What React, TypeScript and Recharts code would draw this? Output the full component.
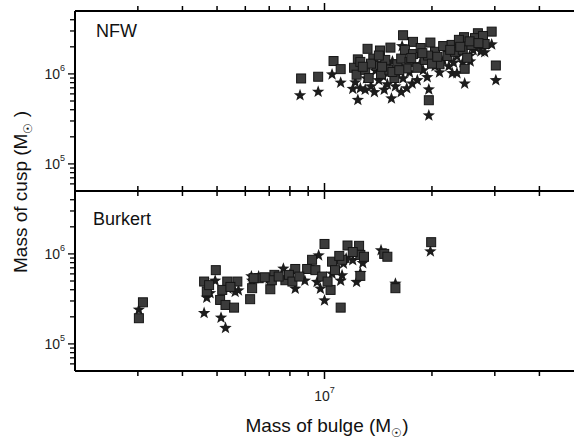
import { ScatterChart, Scatter, XAxis, YAxis } from "recharts";

// mass of bulge (x) vs mass of cusp (y), in solar masses
const nfwSquares: [number, number][] = [
  [8.6e6, 8.9e5], [9.6e6, 9.3e5], [1.06e7, 1.39e6], [1.11e7, 1.13e6], [1.24e7, 1.45e6],
  [1.32e7, 1.9e6], [1.43e7, 1.82e6], [1.53e7, 1.96e6], [1.66e7, 2.69e6], [1.77e7, 2.27e6],
  [1.98e7, 2.23e6], [1.96e7, 5.1e5], [2.46e7, 2.56e6], [2.69e7, 2.83e6], [2.94e7, 2.95e6],
  [3.02e7, 1.24e6], [2.47e7, 1.14e6],
  [1.21e7, 1.17e6], [1.23e7, 9.8e5], [1.26e7, 1.36e6], [1.3e7, 1.11e6], [1.33e7, 9.0e5],
  [1.37e7, 1.48e6], [1.4e7, 1.23e6], [1.44e7, 1.0e6], [1.48e7, 1.43e6], [1.52e7, 1.11e6],
  [1.57e7, 9.0e5], [1.6e7, 1.28e6], [1.64e7, 1.48e6], [1.68e7, 1.85e6], [1.73e7, 1.36e6],
  [1.77e7, 1.66e6], [1.82e7, 1.17e6], [1.86e7, 1.94e6], [1.91e7, 1.43e6], [2.04e7, 1.76e6],
  [2.1e7, 1.28e6], [2.15e7, 2.04e6], [2.21e7, 1.58e6], [2.27e7, 2.1e6], [2.32e7, 1.76e6],
  [2.38e7, 2.39e6], [2.44e7, 1.85e6], [2.51e7, 1.51e6], [2.58e7, 2.1e6], [2.64e7, 2.5e6],
  [2.78e7, 2.64e6], [2.81e7, 2.15e6], [1.55e7, 1.05e6], [1.7e7, 1.15e6], [1.95e7, 1.6e6],
  [2.0e7, 1.3e6], [1.35e7, 1.3e6], [1.45e7, 1.2e6], [1.62e7, 1.1e6], [1.75e7, 1.5e6],
  [1.88e7, 1.7e6], [2.07e7, 1.55e6], [2.25e7, 1.85e6], [2.4e7, 2.0e6], [2.55e7, 2.3e6],
  [2.7e7, 2.2e6], [1.28e7, 1.2e6], [1.42e7, 1.6e6],
];

const nfwStars: [number, number][] = [
  [8.54e6, 5.85e5], [9.6e6, 6.4e5], [1.05e7, 1.0e6], [1.11e7, 8.1e5], [1.24e7, 5.2e5],
  [1.54e7, 5.4e5], [1.65e7, 2.06e6], [1.96e7, 3.5e5], [1.96e7, 6.8e5], [1.94e7, 9.3e5],
  [2.47e7, 7.9e5], [2.94e7, 2.15e6], [3.02e7, 8.6e5], [2.74e7, 1.8e6], [2.28e7, 1.03e6],
  [2.35e7, 1.03e6], [2.56e7, 1.39e6], [1.2e7, 6.9e5], [1.3e7, 6.75e5], [1.38e7, 6.35e5],
  [1.47e7, 6.75e5], [1.64e7, 6.35e5], [1.76e7, 7.9e5], [1.55e7, 1.39e6],
  [1.22e7, 8.15e5], [1.26e7, 7.0e5], [1.31e7, 9.0e5], [1.35e7, 7.35e5], [1.42e7, 8.6e5],
  [1.5e7, 7.75e5], [1.58e7, 7.35e5], [1.66e7, 9.0e5], [1.73e7, 1.05e6], [1.82e7, 8.6e5],
  [1.89e7, 1.11e6], [2.04e7, 1.23e6], [2.15e7, 1.43e6], [2.23e7, 1.23e6], [2.35e7, 1.58e6],
  [2.44e7, 1.36e6], [2.61e7, 1.85e6], [2.71e7, 2.04e6], [2.81e7, 1.76e6], [1.39e7, 1.1e6],
  [1.46e7, 9.5e5], [1.6e7, 1.0e6], [1.85e7, 1.3e6], [2.1e7, 1.05e6], [2.3e7, 1.35e6],
  [2.55e7, 1.6e6], [1.7e7, 7.0e5],
];

const burkertSquares: [number, number][] = [
  [3.02e6, 1.93e5], [3.1e6, 2.9e5], [4.96e6, 6.6e5], [4.6e6, 4.93e5], [5.34e6, 4.93e5],
  [5.7e6, 4.93e5], [5.1e6, 3.08e5], [5.28e6, 2.71e5], [5.58e6, 2.53e5], [6.19e6, 3.14e5],
  [6.27e6, 4.16e5], [6.54e6, 5.37e5], [7.05e6, 4.05e5], [7.24e6, 5.85e5], [7.77e6, 5.1e5],
  [8.28e6, 6.8e5], [8.94e6, 6.8e5], [9.23e6, 8.6e5], [1.0e7, 1.29e6], [1.04e7, 3.98e5],
  [1.05e7, 8.2e5], [1.11e7, 2.53e5], [1.12e7, 8.6e5], [1.16e7, 1.24e6], [1.25e7, 1.23e6],
  [1.26e7, 9.75e5], [1.29e7, 9.3e5], [1.26e7, 5.7e5], [1.47e7, 1.0e6], [1.5e7, 9.3e5],
  [1.58e7, 4.16e5], [1.99e7, 1.35e6], [7.12e6, 5.1e5], [4.68e6, 3.83e5], [5.17e6, 3.98e5],
  [6.33e6, 5.37e5], [7.44e6, 5.6e5], [7.95e6, 5.85e5], [8.13e6, 4.93e5], [9.43e6, 6.6e5],
  [9.85e6, 5.6e5], [1.02e7, 4.93e5], [1.07e7, 6.6e5], [4.75e6, 4.5e5], [5.45e6, 4.3e5],
  [8.5e6, 5.6e5], [1.1e7, 9.5e5], [1.2e7, 1.05e6], [6.8e6, 5.5e5],
];

const burkertStars: [number, number][] = [
  [3.02e6, 2.43e5], [4.6e6, 2.23e5], [5.13e6, 1.98e5], [5.28e6, 1.52e5], [4.68e6, 3.3e5],
  [4.94e6, 5.1e5], [5.62e6, 3.83e5], [5.74e6, 3.98e5], [6.24e6, 5.7e5], [6.54e6, 5.7e5],
  [7.67e6, 6.93e5], [8.28e6, 4.16e5], [8.81e6, 5.1e5], [9.63e6, 9.75e5], [9.74e6, 4.16e5],
  [1.0e7, 3.08e5], [9.53e6, 4.93e5], [1.11e7, 5.1e5], [1.12e7, 5.85e5], [1.23e7, 4.93e5],
  [1.26e7, 6.2e5], [1.28e7, 8.0e5], [1.44e7, 1.11e6], [1.58e7, 4.73e5], [1.98e7, 1.08e6],
  [9.04e6, 7.2e5], [1.05e7, 6.1e5], [1.13e7, 7.9e5], [1.2e7, 8.6e5], [7.0e6, 5.37e5],
  [6.27e6, 5.1e5], [5.37e6, 4.16e5], [4.78e6, 3.7e5], [4.7e6, 4.5e5], [1.15e7, 9.0e5],
  [8.0e6, 6.0e5],
];

const xTicks = [3e6, 4e6, 5e6, 6e6, 7e6, 8e6, 9e6, 1e7, 2e7, 3e7, 4e7];
const yTicks = [6e4, 7e4, 8e4, 9e4, 1e5, 2e5, 3e5, 4e5, 5e5, 6e5, 7e5, 8e5, 9e5, 1e6, 2e6, 3e6, 4e6];
const xDomain = [2e6, 5e7];
const yDomain = [5e4, 5e6];

const toPts = (arr: [number, number][]) => arr.map(([x, y]) => ({ x, y }));

const isMajor = (v: number) => Math.abs(Math.log10(v) - Math.round(Math.log10(v))) < 1e-6;

const FONT = "'Liberation Sans', Arial, Helvetica, sans-serif";

const XTick = ({ x, y, payload, dir, label }: any) => {
  const major = isMajor(payload.value);
  const len = major ? 8 : 5;
  return (
    <g>
      <line x1={x} x2={x} y1={y} y2={y + dir * len} stroke="#000" strokeWidth={1.5} />
      {label && major && (
        <text x={x} y={y + 30} textAnchor="middle" fontSize={14} fontFamily={FONT} fill="#222">
          10<tspan dy={-8} fontSize={9}>{Math.round(Math.log10(payload.value))}</tspan>
        </text>
      )}
    </g>
  );
};

const YTick = ({ x, y, payload }: any) => {
  const major = isMajor(payload.value);
  const len = major ? 7 : 5;
  return (
    <g>
      <line x1={x} x2={x - len} y1={y} y2={y} stroke="#000" strokeWidth={1.3} />
      {major && (
        <text x={x - 10} y={y + 5} textAnchor="end" fontSize={14} fontFamily={FONT} fill="#222">
          10<tspan dy={-8} fontSize={9}>{Math.round(Math.log10(payload.value))}</tspan>
        </text>
      )}
    </g>
  );
};

const Square = ({ cx, cy }: any) => (
  <rect x={cx - 4.5} y={cy - 4.5} width={9} height={9} fill="#3b3b3b" stroke="#151515" strokeWidth={1} />
);

const starPath = (cx: number, cy: number, R: number, r: number) => {
  let d = "";
  for (let i = 0; i < 10; i++) {
    const a = -Math.PI / 2 + (i * Math.PI) / 5;
    const rad = i % 2 ? r : R;
    d += (i ? "L" : "M") + (cx + rad * Math.cos(a)).toFixed(2) + "," + (cy + rad * Math.sin(a)).toFixed(2);
  }
  return d + "Z";
};

const Star = ({ cx, cy }: any) => <path d={starPath(cx, cy + 0.5, 6.5, 2.7)} fill="#1c1c1c" />;

const axisLine = { stroke: "#000", strokeWidth: 2 };

function Panel({ squares, stars, height, bottomH, showXLabel }: any) {
  return (
    <ScatterChart width={574} height={height} margin={{ top: 0, right: 0, bottom: 0, left: 0 }}>
      <XAxis
        xAxisId="t"
        orientation="top"
        dataKey="x"
        type="number"
        scale="log"
        domain={xDomain}
        allowDataOverflow
        ticks={xTicks}
        interval={0}
        height={11}
        tickSize={0}
        tickMargin={0}
        tickLine={false}
        axisLine={axisLine}
        tick={(p: any) => <XTick {...p} dir={-1} />}
      />
      <XAxis
        xAxisId="b"
        dataKey="x"
        type="number"
        scale="log"
        domain={xDomain}
        allowDataOverflow
        ticks={xTicks}
        interval={0}
        height={bottomH}
        tickSize={0}
        tickMargin={0}
        tickLine={false}
        axisLine={axisLine}
        tick={(p: any) => <XTick {...p} dir={1} label={showXLabel} />}
      />
      <YAxis
        dataKey="y"
        type="number"
        scale="log"
        domain={yDomain}
        allowDataOverflow
        ticks={yTicks}
        interval={0}
        width={75}
        tickSize={0}
        tickMargin={0}
        tickLine={false}
        axisLine={axisLine}
        tick={(p: any) => <YTick {...p} />}
      />
      <Scatter xAxisId="t" data={toPts(stars)} shape={() => <g />} isAnimationActive={false} />
      <Scatter xAxisId="b" data={toPts(stars)} shape={(p: any) => <Star {...p} />} isAnimationActive={false} />
      <Scatter xAxisId="b" data={toPts(squares)} shape={(p: any) => <Square {...p} />} isAnimationActive={false} />
    </ScatterChart>
  );
}

export default function App() {
  return (
    <div style={{ position: "absolute", left: 0, top: 0, width: 574, height: 442, background: "#fff" }}>
      <div style={{ position: "absolute", left: 0, top: 0 }}>
        <Panel squares={nfwSquares} stars={nfwStars} height={200} bottomH={9} showXLabel={false} />
      </div>
      <div style={{ position: "absolute", left: 0, top: 180 }}>
        <Panel squares={burkertSquares} stars={burkertStars} height={262} bottomH={71} showXLabel />
      </div>
      <svg
        width={574}
        height={442}
        style={{ position: "absolute", left: 0, top: 0, pointerEvents: "none" }}
        fontFamily={FONT}
      >
        <text x={96} y={37} fontSize={18} fill="#111">NFW</text>
        <text x={93} y={225} fontSize={18} fill="#111">Burkert</text>
        <text x={327} y={432} fontSize={19} textAnchor="middle" fill="#111">
          Mass of bulge (M<tspan dy={5} fontSize={12}>☉</tspan><tspan dy={-5}>)</tspan>
        </text>
        <text x={27} y={192} fontSize={19} textAnchor="middle" fill="#111" transform="rotate(-90 27 192)">
          Mass of cusp (M<tspan dy={5} fontSize={12}>☉</tspan><tspan dy={-5}> )</tspan>
        </text>
      </svg>
    </div>
  );
}
